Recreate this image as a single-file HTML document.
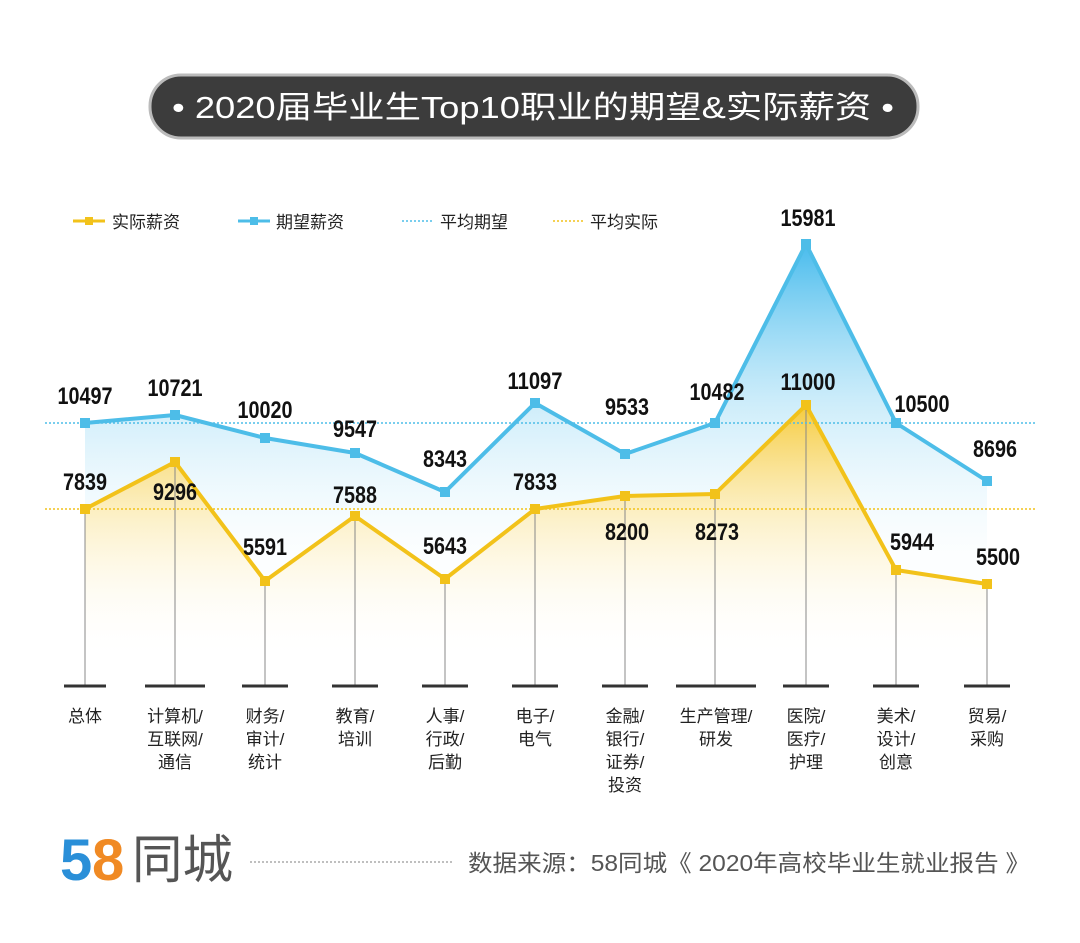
<!DOCTYPE html>
<html><head><meta charset="utf-8"><style>
html,body{margin:0;padding:0;background:#fff;}
svg{display:block}
.cn{font-family:"Liberation Sans","Noto Sans CJK SC",sans-serif;}
.num{font-family:"Liberation Sans Narrow","Liberation Sans",sans-serif;font-weight:bold;font-size:24px;fill:#111;text-anchor:middle}
.cat{font-family:"Liberation Sans","Noto Sans CJK SC",sans-serif;font-size:17px;fill:#222;text-anchor:middle}
</style></head><body>
<svg width="1080" height="943" viewBox="0 0 1080 943" xmlns="http://www.w3.org/2000/svg">
<defs>
<linearGradient id="blueG" gradientUnits="userSpaceOnUse" x1="0" y1="244" x2="0" y2="560">
<stop offset="0" stop-color="#3fb8ec" stop-opacity="0.95"/>
<stop offset="0.5" stop-color="#8fd6f4" stop-opacity="0.45"/>
<stop offset="1" stop-color="#e6f6fd" stop-opacity="0.1"/>
</linearGradient>
<linearGradient id="yelG" gradientUnits="userSpaceOnUse" x1="0" y1="405" x2="0" y2="660">
<stop offset="0" stop-color="#f4c21c" stop-opacity="0.85"/>
<stop offset="0.45" stop-color="#f8dc7a" stop-opacity="0.4"/>
<stop offset="1" stop-color="#fff" stop-opacity="0"/>
</linearGradient>
</defs>
<rect x="150" y="75" width="768" height="63" rx="31" fill="#3c3c3c" stroke="#bbb" stroke-width="3"/>
<text x="172" y="118" class="cn" font-size="31" fill="#fff" textLength="722" lengthAdjust="spacingAndGlyphs">• 2020届毕业生Top10职业的期望&amp;实际薪资 •</text>
<line x1="73" y1="221" x2="105" y2="221" stroke="#f2c21a" stroke-width="3"/><rect x="85" y="217" width="8" height="8" fill="#f2c21a"/>
<text x="112" y="228" class="cn" font-size="17" fill="#222">实际薪资</text>
<line x1="238" y1="221" x2="270" y2="221" stroke="#4dbde8" stroke-width="3"/><rect x="250" y="217" width="8" height="8" fill="#4dbde8"/>
<text x="276" y="228" class="cn" font-size="17" fill="#222">期望薪资</text>
<line x1="402" y1="221" x2="434" y2="221" stroke="#4dbde8" stroke-width="1.5" stroke-dasharray="2,2"/>
<text x="440" y="228" class="cn" font-size="17" fill="#222">平均期望</text>
<line x1="553" y1="221" x2="585" y2="221" stroke="#f2c21a" stroke-width="1.5" stroke-dasharray="2,2"/>
<text x="590" y="228" class="cn" font-size="17" fill="#222">平均实际</text>
<polygon fill="url(#blueG)" points="85,423 175,415 265,438 355,453 445,492 535,403 625,454 715,423 806,244 896,423 987,481 987,584 896,570 806,405 715,494 625,496 535,509 445,579 355,516 265,581 175,462 85,509"/>
<polygon fill="url(#yelG)" points="85,509 175,462 265,581 355,516 445,579 535,509 625,496 715,494 806,405 896,570 987,584 987,686 85,686"/>
<g stroke="#888" stroke-width="1">
<line x1="85" y1="509" x2="85" y2="686"/><line x1="175" y1="462" x2="175" y2="686"/><line x1="265" y1="581" x2="265" y2="686"/><line x1="355" y1="516" x2="355" y2="686"/><line x1="445" y1="579" x2="445" y2="686"/><line x1="535" y1="509" x2="535" y2="686"/><line x1="625" y1="496" x2="625" y2="686"/><line x1="715" y1="494" x2="715" y2="686"/><line x1="806" y1="405" x2="806" y2="686"/><line x1="896" y1="570" x2="896" y2="686"/><line x1="987" y1="584" x2="987" y2="686"/>
</g>
<g stroke="#333" stroke-width="3">
<line x1="64" y1="686" x2="106" y2="686"/><line x1="145" y1="686" x2="205" y2="686"/><line x1="242" y1="686" x2="288" y2="686"/><line x1="332" y1="686" x2="378" y2="686"/><line x1="422" y1="686" x2="468" y2="686"/><line x1="512" y1="686" x2="558" y2="686"/><line x1="602" y1="686" x2="648" y2="686"/><line x1="676" y1="686" x2="756" y2="686"/><line x1="783" y1="686" x2="829" y2="686"/><line x1="873" y1="686" x2="919" y2="686"/><line x1="964" y1="686" x2="1010" y2="686"/>
</g>
<line x1="45" y1="423" x2="1035" y2="423" stroke="#4dbde8" stroke-width="1.5" stroke-dasharray="2,2"/>
<line x1="45" y1="509" x2="1035" y2="509" stroke="#f2c21a" stroke-width="1.5" stroke-dasharray="2,2"/>
<polyline fill="none" stroke="#4dbde8" stroke-width="4" stroke-linejoin="round" points="85,423 175,415 265,438 355,453 445,492 535,403 625,454 715,423 806,244 896,423 987,481"/>
<polyline fill="none" stroke="#f2c21a" stroke-width="4" stroke-linejoin="round" points="85,509 175,462 265,581 355,516 445,579 535,509 625,496 715,494 806,405 896,570 987,584"/>
<g fill="#4dbde8">
<rect x="80" y="418" width="10" height="10"/><rect x="170" y="410" width="10" height="10"/><rect x="260" y="433" width="10" height="10"/><rect x="350" y="448" width="10" height="10"/><rect x="440" y="487" width="10" height="10"/><rect x="530" y="398" width="10" height="10"/><rect x="620" y="449" width="10" height="10"/><rect x="710" y="418" width="10" height="10"/><rect x="801" y="239" width="10" height="10"/><rect x="891" y="418" width="10" height="10"/><rect x="982" y="476" width="10" height="10"/>
</g>
<g fill="#f2c21a">
<rect x="80" y="504" width="10" height="10"/><rect x="170" y="457" width="10" height="10"/><rect x="260" y="576" width="10" height="10"/><rect x="350" y="511" width="10" height="10"/><rect x="440" y="574" width="10" height="10"/><rect x="530" y="504" width="10" height="10"/><rect x="620" y="491" width="10" height="10"/><rect x="710" y="489" width="10" height="10"/><rect x="801" y="400" width="10" height="10"/><rect x="891" y="565" width="10" height="10"/><rect x="982" y="579" width="10" height="10"/>
</g>
<g>
<text class="num" x="85" y="404" textLength="55" lengthAdjust="spacingAndGlyphs">10497</text><text class="num" x="175" y="396" textLength="55" lengthAdjust="spacingAndGlyphs">10721</text><text class="num" x="265" y="418" textLength="55" lengthAdjust="spacingAndGlyphs">10020</text><text class="num" x="355" y="437" textLength="44" lengthAdjust="spacingAndGlyphs">9547</text><text class="num" x="445" y="467" textLength="44" lengthAdjust="spacingAndGlyphs">8343</text><text class="num" x="535" y="389" textLength="55" lengthAdjust="spacingAndGlyphs">11097</text><text class="num" x="627" y="415" textLength="44" lengthAdjust="spacingAndGlyphs">9533</text><text class="num" x="717" y="400" textLength="55" lengthAdjust="spacingAndGlyphs">10482</text><text class="num" x="808" y="226" textLength="55" lengthAdjust="spacingAndGlyphs">15981</text><text class="num" x="922" y="412" textLength="55" lengthAdjust="spacingAndGlyphs">10500</text><text class="num" x="995" y="457" textLength="44" lengthAdjust="spacingAndGlyphs">8696</text>
<text class="num" x="85" y="490" textLength="44" lengthAdjust="spacingAndGlyphs">7839</text><text class="num" x="175" y="500" textLength="44" lengthAdjust="spacingAndGlyphs">9296</text><text class="num" x="265" y="555" textLength="44" lengthAdjust="spacingAndGlyphs">5591</text><text class="num" x="355" y="503" textLength="44" lengthAdjust="spacingAndGlyphs">7588</text><text class="num" x="445" y="554" textLength="44" lengthAdjust="spacingAndGlyphs">5643</text><text class="num" x="535" y="490" textLength="44" lengthAdjust="spacingAndGlyphs">7833</text><text class="num" x="627" y="540" textLength="44" lengthAdjust="spacingAndGlyphs">8200</text><text class="num" x="717" y="540" textLength="44" lengthAdjust="spacingAndGlyphs">8273</text><text class="num" x="808" y="390" textLength="55" lengthAdjust="spacingAndGlyphs">11000</text><text class="num" x="912" y="550" textLength="44" lengthAdjust="spacingAndGlyphs">5944</text><text class="num" x="998" y="565" textLength="44" lengthAdjust="spacingAndGlyphs">5500</text>
</g>
<g>
<text class="cat" x="85" y="722">总体</text>
<text class="cat" x="175" y="722">计算机/</text><text class="cat" x="175" y="745">互联网/</text><text class="cat" x="175" y="768">通信</text>
<text class="cat" x="265" y="722">财务/</text><text class="cat" x="265" y="745">审计/</text><text class="cat" x="265" y="768">统计</text>
<text class="cat" x="355" y="722">教育/</text><text class="cat" x="355" y="745">培训</text>
<text class="cat" x="445" y="722">人事/</text><text class="cat" x="445" y="745">行政/</text><text class="cat" x="445" y="768">后勤</text>
<text class="cat" x="535" y="722">电子/</text><text class="cat" x="535" y="745">电气</text>
<text class="cat" x="625" y="722">金融/</text><text class="cat" x="625" y="745">银行/</text><text class="cat" x="625" y="768">证券/</text><text class="cat" x="625" y="791">投资</text>
<text class="cat" x="716" y="722">生产管理/</text><text class="cat" x="716" y="745">研发</text>
<text class="cat" x="806" y="722">医院/</text><text class="cat" x="806" y="745">医疗/</text><text class="cat" x="806" y="768">护理</text>
<text class="cat" x="896" y="722">美术/</text><text class="cat" x="896" y="745">设计/</text><text class="cat" x="896" y="768">创意</text>
<text class="cat" x="987" y="722">贸易/</text><text class="cat" x="987" y="745">采购</text>
</g>
<text x="60" y="880" font-family="Liberation Sans,sans-serif" font-weight="bold" font-size="58" fill="#2a8fd8">5</text>
<text x="92" y="880" font-family="Liberation Sans,sans-serif" font-weight="bold" font-size="58" fill="#f08a24">8</text>
<text x="132" y="878" class="cn" font-size="52" fill="#555" textLength="101" lengthAdjust="spacingAndGlyphs">同城</text>
<line x1="250" y1="862" x2="452" y2="862" stroke="#aaa" stroke-width="1.5" stroke-dasharray="2,2"/>
<text x="468" y="871" class="cn" font-size="23" fill="#555" textLength="562" lengthAdjust="spacingAndGlyphs">数据来源：58同城《 2020年高校毕业生就业报告 》</text>
</svg>
</body></html>
